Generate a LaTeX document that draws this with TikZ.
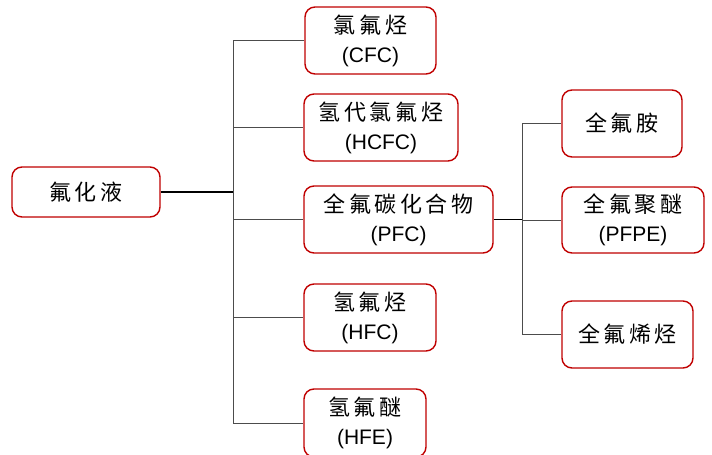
\documentclass[tikz,border=0pt]{standalone}
\usepackage{fontspec}
\setmainfont{Liberation Sans}
\newfontfamily\cjk{Noto Sans CJK SC}[LetterSpace=16]
\definecolor{boxred}{HTML}{C00000}
\tikzset{
  box/.style={draw=boxred, line width=1.4pt, rounded corners=10pt, fill=white, align=center, inner sep=0pt, font=\fontsize{21}{31}\selectfont},
  conn/.style={draw=black!70, line width=1pt},
  trunk/.style={draw=black, line width=1.4pt}
}
\newcommand{\cn}[1]{{\cjk\fontsize{22}{31}\selectfont #1}}
\begin{document}
\begin{tikzpicture}[x=1pt,y=-1pt]
\useasboundingbox (0,0) rectangle (712,455);
\node[box, minimum width=148pt, minimum height=50pt] (root) at (86,192) {\cn{氟化液}};
\node[box, minimum width=131pt, minimum height=67pt] (cfc) at (370.5,40.5) {\raisebox{-2pt}{\cn{氯氟烃}}\\(CFC)};
\node[box, minimum width=154pt, minimum height=67pt] (hcfc) at (381,127.5) {\raisebox{-2pt}{\cn{氢代氯氟烃}}\\(HCFC)};
\node[box, minimum width=189pt, minimum height=67pt] (pfc) at (398.5,219.5) {\raisebox{-2pt}{\cn{全氟碳化合物}}\\(PFC)};
\node[box, minimum width=132pt, minimum height=67pt] (hfc) at (370,317.5) {\raisebox{-2pt}{\cn{氢氟烃}}\\(HFC)};
\node[box, minimum width=122pt, minimum height=68pt] (hfe) at (365,423) {\raisebox{-2pt}{\cn{氢氟醚}}\\(HFE)};
\node[box, minimum width=120pt, minimum height=67pt] (amine) at (622,123.5) {\cn{全氟胺}};
\node[box, minimum width=142pt, minimum height=66pt] (pfpe) at (633,220) {\raisebox{-2pt}{\cn{全氟聚醚}}\\(PFPE)};
\node[box, minimum width=131pt, minimum height=67pt] (olefin) at (627.5,334.5) {\cn{全氟烯烃}};
\coordinate (j1) at (233,192);
\coordinate (j1top) at (233,40.5);
\coordinate (j1bot) at (233,423);
\coordinate (j2) at (522,219.5);
\coordinate (j2top) at (522,123.5);
\coordinate (j2bot) at (522,334.5);
\draw[trunk] (root.east) -- (j1);
\draw[conn] (j1top) -- (j1bot);
\draw[conn] (j1top) -- (cfc.west);
\draw[conn] (j1 |- hcfc.west) -- (hcfc.west);
\draw[conn] (j1 |- pfc.west) -- (pfc.west);
\draw[conn] (j1 |- hfc.west) -- (hfc.west);
\draw[conn] (j1bot) -- (hfe.west);
\draw[trunk] (pfc.east) -- (j2);
\draw[conn] (j2top) -- (j2bot);
\draw[conn] (j2top) -- (amine.west);
\draw[conn] (j2 |- pfpe.west) -- (pfpe.west);
\draw[conn] (j2bot) -- (olefin.west);
\end{tikzpicture}
\end{document}
